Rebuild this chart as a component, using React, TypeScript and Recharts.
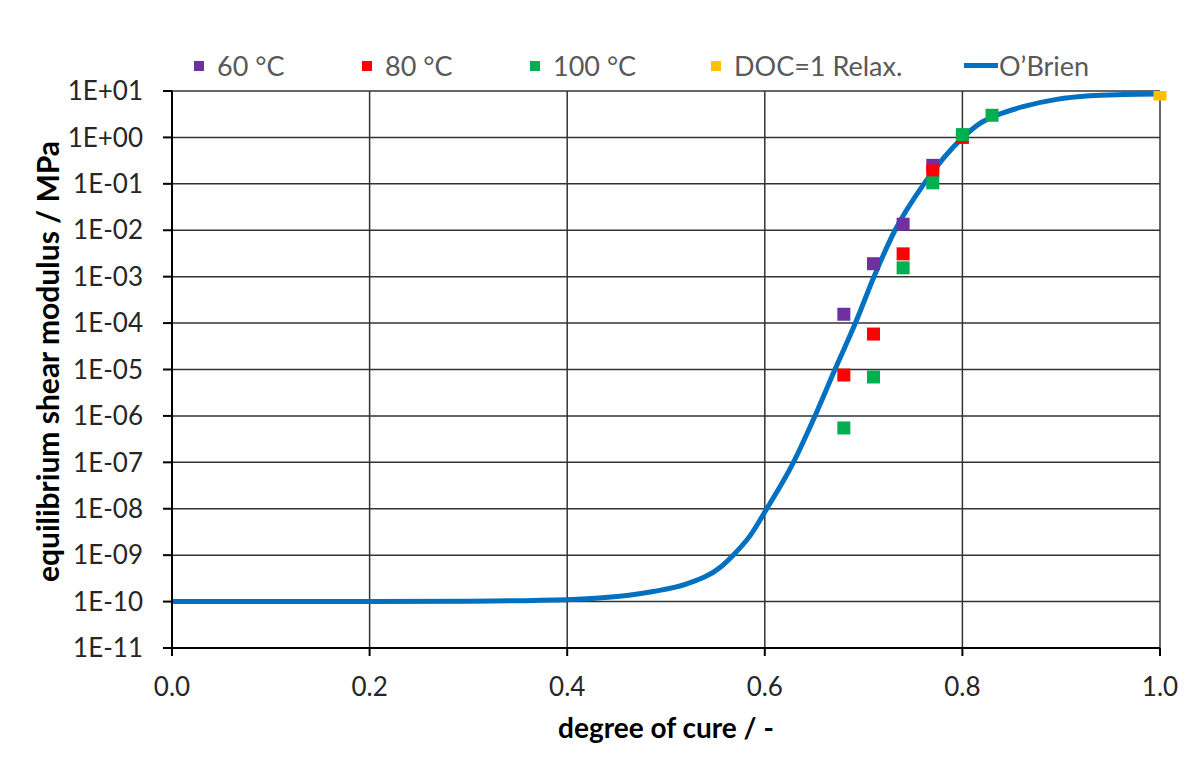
import React from 'react';
import {
  ComposedChart, Line, Scatter, XAxis, YAxis, CartesianGrid, Legend, Label,
} from 'recharts';

// O'Brien model curve (degree of cure vs modulus in MPa)
const curveDoc = [0, 0.1, 0.2, 0.3, 0.4, 0.453, 0.487, 0.521, 0.555, 0.568, 0.585, 0.602, 0.629, 0.6508, 0.671, 0.6917, 0.7105, 0.7318, 0.7611, 0.8006, 0.8178, 0.8347, 0.8613, 0.8954, 0.9291, 0.9626, 1.0];
const curveG = [1e-10, 1e-10, 1e-10, 1.02e-10, 1.1e-10, 1.3e-10, 1.65e-10, 2.4e-10, 5.5e-10, 1e-9, 2.6e-9, 1e-8, 1e-7, 1e-6, 1e-5, 1e-4, 1e-3, 1e-2, 1e-1, 1.0, 2.0, 3.0, 4.6, 6.6, 7.9, 8.4, 8.6];

// measured points
const doc60 = [0.68, 0.71, 0.74, 0.77];
const g60 = [1.55e-4, 1.9e-3, 1.35e-2, 0.25];
const doc80 = [0.68, 0.71, 0.74, 0.77, 0.8];
const g80 = [7.6e-6, 5.8e-5, 3.1e-3, 0.19, 1.0];
const doc100 = [0.68, 0.71, 0.74, 0.77, 0.8, 0.83];
const g100 = [5.5e-7, 6.9e-6, 1.55e-3, 0.105, 1.15, 3.0];
const docRelax = [1.0];
const gRelax = [8.6];

const xTicks = [0, 0.2, 0.4, 0.6, 0.8, 1.0];
const yTicks = [1e-11, 1e-10, 1e-9, 1e-8, 1e-7, 1e-6, 1e-5, 1e-4, 1e-3, 1e-2, 1e-1, 1, 10];

const zip = (xs: number[], ys: number[]) => xs.map((x, i) => ({ x, y: ys[i] }));

const curveData = zip(curveDoc, curveG);
const data60 = zip(doc60, g60);
const data80 = zip(doc80, g80);
const data100 = zip(doc100, g100);
const dataRelax = zip(docRelax, gRelax);

const FONT = 'Lato, "Open Sans", sans-serif';

const fmtExp = (v: number) => {
  const e = Math.round(Math.log10(v));
  const s = e < 0 ? '-' : '+';
  return `1E${s}${String(Math.abs(e)).padStart(2, '0')}`;
};

const squareShape = (color: string) => (props: any) => (
  <rect x={props.cx - 6.5} y={props.cy - 6.5} width={13} height={13} fill={color} />
);

const legendItems = [
  { name: '60 °C', color: '#7030A0', type: 'square', w: 168 },
  { name: '80 °C', color: '#FF0000', type: 'square', w: 168 },
  { name: '100 °C', color: '#00B050', type: 'square', w: 181 },
  { name: 'DOC=1 Relax.', color: '#FFC000', type: 'square', w: 253 },
  { name: 'O\u2019Brien', color: '#0070C0', type: 'line', w: 160 },
];

const renderLegend = () => (
  <div style={{ display: 'flex', alignItems: 'center', fontFamily: FONT, fontSize: 27, color: '#595959' }}>
    {legendItems.map((it) => (
      <div key={it.name} style={{ display: 'flex', alignItems: 'center', width: it.w, flex: 'none' }}>
        {it.type === 'line' ? (
          <span style={{ display: 'inline-block', width: 34, height: 5, background: it.color, marginRight: 1 }} />
        ) : (
          <span style={{ display: 'inline-block', width: 10, height: 10, background: it.color, marginRight: 13 }} />
        )}
        <span>{it.name}</span>
      </div>
    ))}
  </div>
);

export default function App() {
  return (
    <div style={{ position: 'absolute', left: 0, top: 0, background: '#fff' }}>
      <ComposedChart width={1198} height={761} margin={{ top: 91, right: 38, bottom: 13, left: 35 }}>
        <CartesianGrid stroke="#333" strokeWidth={1.5} />
        <XAxis
          dataKey="x"
          type="number"
          domain={[0, 1]}
          ticks={xTicks}
          tickFormatter={(v: number) => v.toFixed(1)}
          height={100}
          tickSize={8}
          tickMargin={22}
          stroke="#000"
          strokeWidth={2}
          tick={{ fontFamily: FONT, fontSize: 26, fill: '#262626' }}
        >
          <Label value="degree of cure / -" position="insideBottom" offset={10}
            style={{ fontFamily: FONT, fontSize: 28, fontWeight: 700, fill: '#000' }} />
        </XAxis>
        <YAxis
          dataKey="y"
          type="number"
          scale="log"
          domain={[1e-11, 10]}
          allowDataOverflow
          ticks={yTicks}
          tickFormatter={fmtExp}
          width={137}
          tickSize={9}
          tickMargin={20}
          stroke="#000"
          strokeWidth={2}
          tick={{ fontFamily: FONT, fontSize: 26, fill: '#262626' }}
        >
          <Label value="equilibrium shear modulus / MPa" angle={-90} position="insideLeft" offset={13} dy={-8}
            style={{ textAnchor: 'middle', fontFamily: FONT, fontSize: 30, fontWeight: 700, fill: '#000' }} />
        </YAxis>
        <Legend
          layout="horizontal"
          verticalAlign="middle"
          align="center"
          content={renderLegend}
          wrapperStyle={{ top: 49, left: 194, width: 1000 }}
        />
        <Line data={curveData} dataKey="y" type="monotone" stroke="#0070C0" strokeWidth={5}
          dot={false} isAnimationActive={false} name="O'Brien" />
        <Scatter data={data60} dataKey="y" shape={squareShape('#7030A0')} isAnimationActive={false} name="60 °C" />
        <Scatter data={data80} dataKey="y" shape={squareShape('#FF0000')} isAnimationActive={false} name="80 °C" />
        <Scatter data={data100} dataKey="y" shape={squareShape('#00B050')} isAnimationActive={false} name="100 °C" />
        <Scatter data={dataRelax} dataKey="y" shape={squareShape('#FFC000')} isAnimationActive={false} name="DOC=1 Relax." />
      </ComposedChart>
    </div>
  );
}
